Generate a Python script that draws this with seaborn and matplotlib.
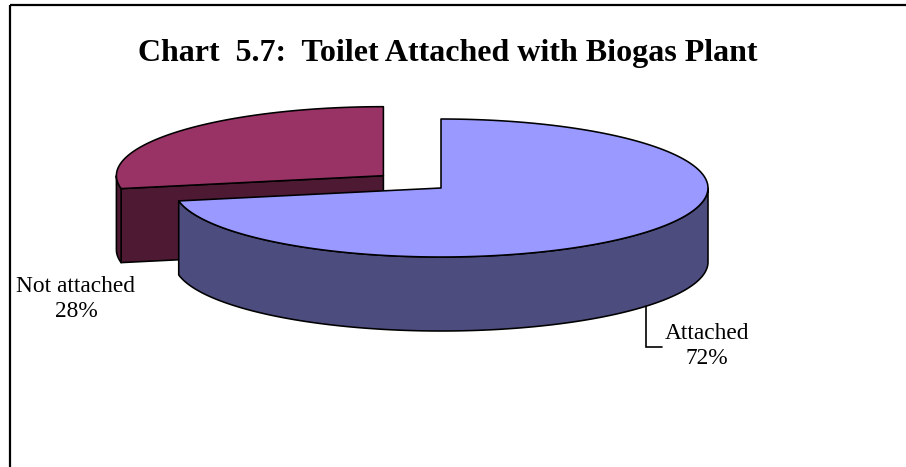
import numpy as np
import matplotlib
matplotlib.use("Agg")
import matplotlib.pyplot as plt
from matplotlib.patches import Polygon, Rectangle
import seaborn as sns

# Survey result: households whose toilet is attached to the biogas plant
categories = ["Attached", "Not attached"]
shares = [72, 28]
explode = [0.0, 0.28]
top_colors = ["#9999FF", "#993366"]
side_colors = ["#4C4C7F", "#4D1933"]
title = "Chart  5.7:  Toilet Attached with Biogas Plant"

sns.set_theme(style="white")
plt.rcParams["font.family"] = ["Liberation Serif", "DejaVu Serif"]

W, H = 906, 467
fig = plt.figure(figsize=(W / 100, H / 100), dpi=100)
fig.patch.set_facecolor("white")
ax = fig.add_axes([0, 0, 1, 1])
ax.set_xlim(0, W)
ax.set_ylim(H, 0)
ax.axis("off")

# chart frame (runs off the right and bottom of the canvas)
ax.add_patch(Rectangle((9.5, 5), 1200, 900, fill=False, lw=1.6,
                       edgecolor="black", clip_on=False, zorder=1))

# projected pie geometry (pixels)
CX, CY = 441, 188
RX, RY = 267, 69
DEPTH = 74
LW = 1.15


def pt(theta_deg, cx, cy, z=0.0, r=1.0):
    t = np.radians(theta_deg)
    return cx + r * RX * np.cos(t), cy - r * RY * np.sin(t) + z


def arc(lo, hi, cx, cy, z=0.0, n=200):
    th = np.linspace(lo, hi, n)
    t = np.radians(th)
    return np.column_stack([cx + RX * np.cos(t), cy - RY * np.sin(t) + z])


# slice angles: start at 12 o'clock, go clockwise
slices = []
start = 90.0
for cat, share, ex, tc, sc in zip(categories, shares, explode, top_colors, side_colors):
    end = start - 360.0 * share / 100.0
    lo, hi = end, start
    mid = 0.5 * (lo + hi)
    dx = ex * RX * np.cos(np.radians(mid))
    dy = -ex * RY * np.sin(np.radians(mid))
    slices.append(dict(cat=cat, share=share, lo=lo, hi=hi, mid=mid,
                       cx=CX + dx, cy=CY + dy, top=tc, side=sc))
    start = end

# paint back slices first
slices.sort(key=lambda s: -np.sin(np.radians(s["mid"])))

z = 2
for s in slices:
    lo, hi, cx, cy = s["lo"], s["hi"], s["cx"], s["cy"]
    faces = []
    # radial cut faces that look toward the viewer
    for ang, vis in ((hi, np.cos(np.radians(hi)) < -1e-9),
                     (lo, np.cos(np.radians(lo)) > 1e-9)):
        if vis:
            p0 = (cx, cy)
            p1 = pt(ang, cx, cy)
            faces.append([p0, p1, (p1[0], p1[1] + DEPTH), (cx, cy + DEPTH)])
    # outer wall on the front half
    for k in (-1, 0, 1):
        a0, a1 = max(lo, -180 + 360 * k), min(hi, 0 + 360 * k)
        if a1 > a0:
            upper = arc(a0, a1, cx, cy)
            lower = arc(a1, a0, cx, cy, DEPTH)
            faces.append(np.vstack([upper, lower]))
    for f in faces:
        ax.add_patch(Polygon(f, closed=True, facecolor=s["side"], edgecolor="black",
                             lw=LW, joinstyle="round", zorder=z))
        z += 1
    top = np.vstack([[cx, cy], arc(lo, hi, cx, cy)])
    ax.add_patch(Polygon(top, closed=True, facecolor=s["top"], edgecolor="black",
                         lw=LW, joinstyle="round", zorder=z))
    z += 1

# data labels
lab = {s["cat"]: s for s in slices}
ax.text(707, 346, f"Attached\n{lab['Attached']['share']}%", ha="center", va="center",
        fontsize=16.8, linespacing=1.3, color="black", zorder=z)
ax.text(76, 299, f"Not attached\n{lab['Not attached']['share']}%", ha="center",
        va="center", fontsize=16.8, linespacing=1.3, color="black", zorder=z)

# leader line for the attached label
lx, ly = pt(-39.8, CX, CY, DEPTH)
ax.plot([lx, lx, 662], [ly, 347, 347], color="black", lw=1.2, zorder=z,
        solid_joinstyle="miter")

ax.text(448, 53, title, ha="center", va="center", fontsize=23, fontweight="bold",
        color="black", zorder=z)

fig.savefig("out.png", dpi=100, facecolor="white")
